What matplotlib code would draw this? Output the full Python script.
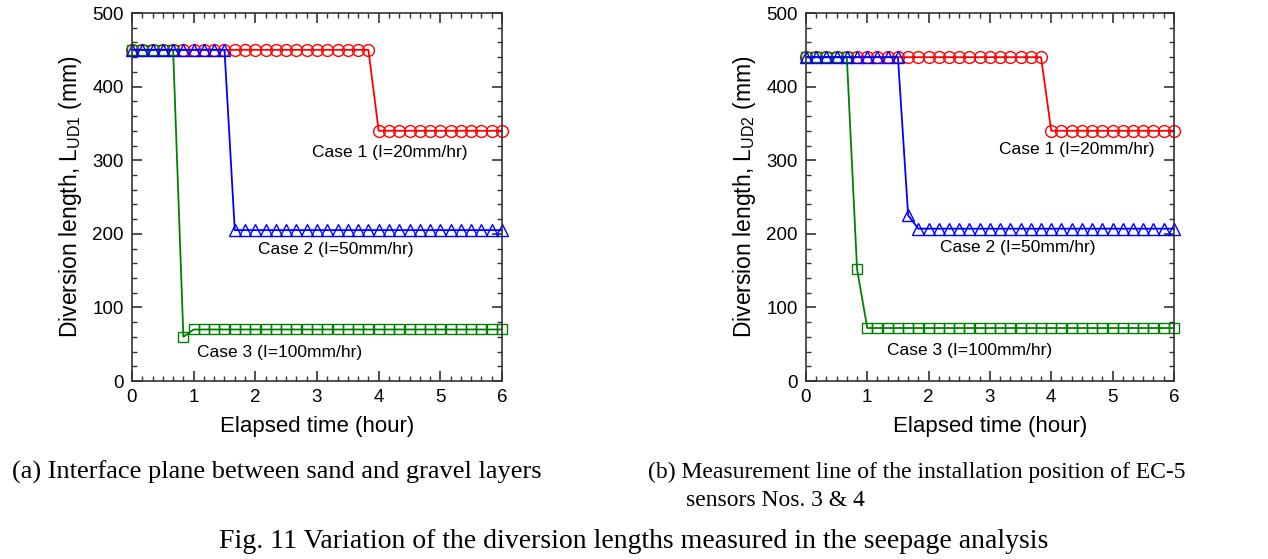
import numpy as np
import matplotlib
matplotlib.use("Agg")
import matplotlib.pyplot as plt
from matplotlib.ticker import MultipleLocator

plt.rcParams.update({
    "font.family": ["Liberation Sans", "DejaVu Sans"],
    "mathtext.fontset": "custom",
    "mathtext.rm": "Liberation Sans",
    "mathtext.it": "Liberation Sans",
    "axes.linewidth": 1.2,
    "axes.edgecolor": "#333333",
})

# elapsed time, 10-minute steps from 0 to 6 hours
t = np.arange(37) / 6.0

# (a) interface plane between sand and gravel layers
a_case1 = [450] * 24 + [340] * 13
a_case2 = [450] * 10 + [205] * 27
a_case3 = [450] * 5 + [60] + [70] * 31

# (b) measurement line of EC-5 sensors Nos. 3 & 4
b_case1 = [440] * 24 + [340] * 13
b_case2 = [440] * 10 + [225] + [207] * 26
b_case3 = [440] * 5 + [152] + [72] * 31

case_labels = ["Case 1 (I=20mm/hr)", "Case 2 (I=50mm/hr)", "Case 3 (I=100mm/hr)"]
a_label_pos = [(4.18, 311), (3.3, 179), (2.4, 39)]
b_label_pos = [(4.41, 314), (3.45, 181), (2.67, 42)]

fig = plt.figure(figsize=(12.68, 5.59), dpi=100)
axa = fig.add_axes([0.1041, 0.3184, 0.2918, 0.6583])
axb = fig.add_axes([0.6356, 0.3184, 0.2902, 0.6583])


def draw(ax, c1, c2, c3, ylab, pos):
    kw = dict(lw=1.3, mfc="none", mew=1.0, clip_on=False)
    ax.plot(t, c1, color="#ff0000", marker="o", ms=8.5, **kw)
    ax.plot(t, c3, color="#008000", marker="s", ms=7, **kw)
    ax.plot(t, c2, color="#0000ff", marker="^", ms=8.5, **kw)
    ax.set_xlim(0, 6)
    ax.set_ylim(0, 500)
    ax.xaxis.set_major_locator(MultipleLocator(1))
    ax.xaxis.set_minor_locator(MultipleLocator(1 / 6))
    ax.yaxis.set_major_locator(MultipleLocator(100))
    ax.yaxis.set_minor_locator(MultipleLocator(20))
    ax.tick_params(which="both", direction="in", top=True, right=True,
                   color="#333333", labelsize=13.5)
    ax.tick_params(which="major", length=7, width=1.2, pad=6)
    ax.tick_params(which="minor", length=3.5, width=1.0)
    for lbl, (x, y) in zip(case_labels, pos):
        ax.text(x, y, lbl, ha="center", va="center", fontsize=12.5)
    ax.set_xlabel("Elapsed time (hour)", fontsize=16, labelpad=7)
    ax.set_ylabel(ylab, fontsize=16.5, labelpad=6)


draw(axa, a_case1, a_case2, a_case3, r"Diversion length, L$_{\mathrm{UD1}}$ (mm)", a_label_pos)
draw(axb, b_case1, b_case2, b_case3, r"Diversion length, L$_{\mathrm{UD2}}$ (mm)", b_label_pos)

serif = ["Liberation Serif", "DejaVu Serif"]
fig.text(12 / 1268, 1 - 472 / 559, "(a) Interface plane between sand and gravel layers",
         family=serif, fontsize=19, ha="left", va="center")
fig.text(648 / 1268, 1 - 472 / 559, "(b) Measurement line of the installation position of EC-5",
         family=serif, fontsize=17, ha="left", va="center")
fig.text(686 / 1268, 1 - 500 / 559, "sensors Nos. 3 & 4",
         family=serif, fontsize=17, ha="left", va="center")
fig.text(634 / 1268, 1 - 541 / 559,
         "Fig. 11 Variation of the diversion lengths measured in the seepage analysis",
         family=serif, fontsize=20, ha="center", va="center")

fig.savefig("out.png", dpi=100)
